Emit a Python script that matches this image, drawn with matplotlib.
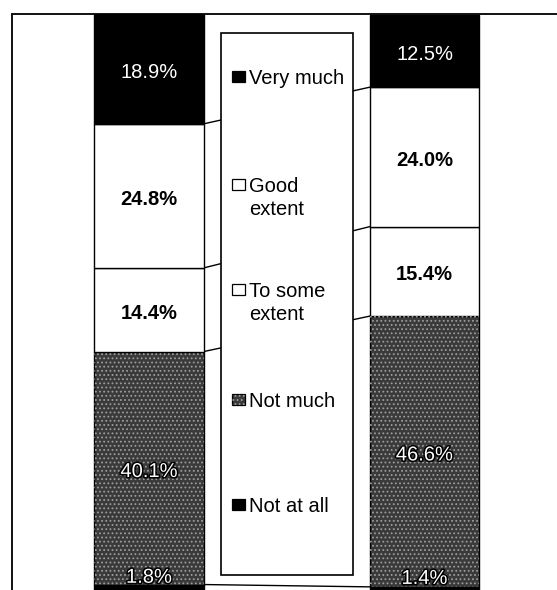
import matplotlib
matplotlib.use("Agg")
import matplotlib.pyplot as plt
import matplotlib.patheffects as pe
from matplotlib.patches import Rectangle

# Response categories, bottom to top of each stacked bar
categories = ["Not at all", "Not much", "To some\nextent", "Good\nextent", "Very much"]

# Share of responses (%) for the two bars, one list per category
not_at_all = [1.8, 1.4]
not_much = [40.1, 46.6]
to_some_extent = [14.4, 15.4]
good_extent = [24.8, 24.0]
very_much = [18.9, 12.5]

series = [not_at_all, not_much, to_some_extent, good_extent, very_much]

# Segment styles per category: (face colour, label kind)
styles = [
    ("#000000", "dark"),
    ("#3a3a3a", "stipple"),
    ("#ffffff", "light"),
    ("#ffffff", "light"),
    ("#000000", "dark"),
]

W, H = 557, 590
plt.rcParams["font.family"] = ["Liberation Sans", "DejaVu Sans"]
plt.rcParams["hatch.linewidth"] = 0.8

fig = plt.figure(figsize=(W / 100, H / 100), dpi=100)


def fx(px):
    return px / W


def fy(py):
    return 1 - py / H


# plot area: left edge at x=12 px, top at y=14 px, runs past the right and bottom edges
ax = fig.add_axes([fx(12), fy(595), 1.0, (595 - 14) / H])
ax.set_ylim(0, 100)
unit = 275.5
ax.set_xlim((12 - 149) / unit, (12 + W - 149) / unit)
bar_w = 109.5 / unit
xs = [0, 1]

for s in ("right", "bottom"):
    ax.spines[s].set_visible(False)
for s in ("left", "top"):
    ax.spines[s].set_linewidth(1.4)
    ax.spines[s].set_color("#111111")
ax.set_xticks([])
ax.set_yticks([])

outline = [pe.withStroke(linewidth=2.2, foreground="black")]
bottoms = [0.0, 0.0]
boundaries = []
for vals, (fc, kind) in zip(series, styles):
    ax.bar(xs, vals, bar_w, bottom=bottoms, color=fc, edgecolor="black",
           linewidth=1.0, zorder=3)
    if kind == "stipple":
        ax.bar(xs, vals, bar_w, bottom=bottoms, color="none", edgecolor="#9c9c9c",
               linewidth=0, hatch="....", zorder=3.5)
    for x, v, b in zip(xs, vals, bottoms):
        cy = b + v / 2
        txt = f"{v:.1f}%"
        kw = dict(xy=(x, cy), textcoords="offset points", ha="center", va="center",
                  fontsize=14.5, zorder=6)
        if kind == "light":
            ax.annotate(txt, xytext=(0, -2.5), fontweight="bold", color="black", **kw)
        elif kind == "dark" and v > 5:
            ax.annotate(txt, xytext=(0, -2.5), color="white", **kw)
        else:
            offs = 9 if v < 5 else -2.5
            ax.annotate(txt, xytext=(0, offs), color="white", path_effects=outline, **kw)
    bottoms = [b + v for b, v in zip(bottoms, vals)]
    boundaries.append(list(bottoms))

# series lines joining the segment boundaries of the two bars
for top in boundaries[:-1]:
    ax.plot([xs[0] + bar_w / 2, xs[1] - bar_w / 2], top, color="black",
            linewidth=1.0, zorder=2)

# legend box drawn in pixel layout between the bars
leg_l, leg_r, leg_t, leg_b = 221, 353, 33, 575
ax.add_patch(Rectangle((fx(leg_l), fy(leg_b)), fx(leg_r) - fx(leg_l), fy(leg_t) - fy(leg_b),
                       transform=fig.transFigure, facecolor="white", edgecolor="black",
                       linewidth=1.2, zorder=10, clip_on=False))

baselines = [512, 407, 297, 192, 84]
line_gap = 23
mk_w, mk_h = 13, 11
for name, (fc, kind), base in zip(categories, styles, baselines):
    mk_top = base - 13
    ax.add_patch(Rectangle((fx(232), fy(mk_top + mk_h)), fx(mk_w), mk_h / H,
                           transform=fig.transFigure, facecolor=fc, edgecolor="black",
                           linewidth=0.9, zorder=11, clip_on=False))
    if kind == "stipple":
        ax.add_patch(Rectangle((fx(232), fy(mk_top + mk_h)), fx(mk_w), mk_h / H,
                               transform=fig.transFigure, facecolor="none",
                               edgecolor="#9c9c9c", linewidth=0, hatch="....",
                               zorder=11.5, clip_on=False))
    for j, line in enumerate(name.split("\n")):
        ax.text(fx(249), fy(base + j * line_gap), line, transform=fig.transFigure,
                ha="left", va="baseline", fontsize=14.5, color="black", zorder=12)

fig.savefig("out.png", dpi=100)
